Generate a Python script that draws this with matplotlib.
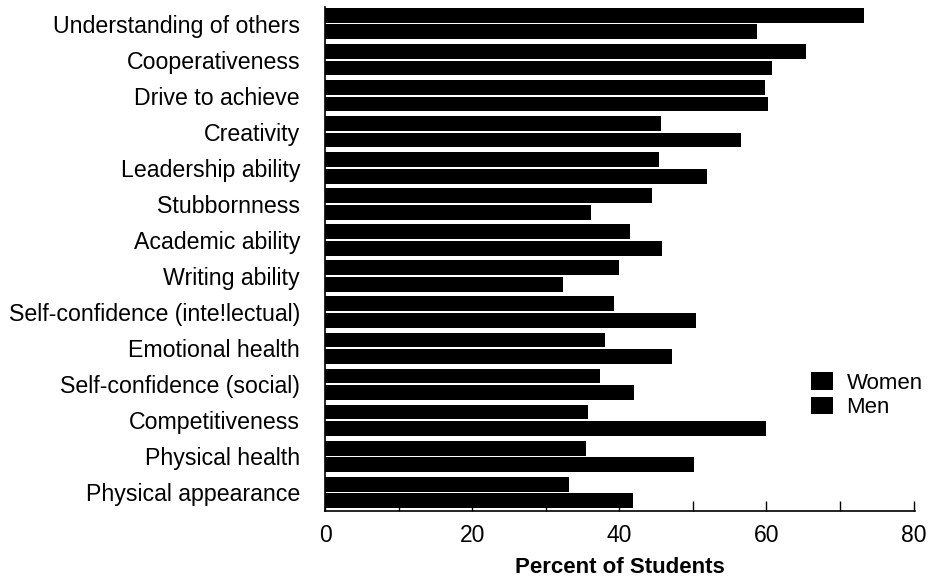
import numpy as np
import matplotlib
matplotlib.use('Agg')
import matplotlib.pyplot as plt

traits = ['Understanding of others', 'Cooperativeness', 'Drive to achieve', 'Creativity',
          'Leadership ability', 'Stubbornness', 'Academic ability', 'Writing ability',
          'Self-confidence (inte!lectual)', 'Emotional health', 'Self-confidence (social)',
          'Competitiveness', 'Physical health', 'Physical appearance']
women = [73.2, 65.4, 59.8, 45.6, 45.4, 44.5, 41.5, 39.9, 39.3, 38.0, 37.4, 35.7, 35.5, 33.2]
men = [58.7, 60.7, 60.2, 56.5, 51.9, 36.2, 45.8, 32.3, 50.4, 47.2, 42.0, 59.9, 50.2, 41.9]
xticks = [0, 20, 40, 60, 80]

plt.rcParams['font.family'] = ['Liberation Sans', 'DejaVu Sans']

fig = plt.figure(figsize=(9.3, 5.81), dpi=100)
ax = fig.add_axes([0.3495, 0.1213, 0.6345, 0.8661])

pos = np.arange(len(traits))
h = 0.41
gap = 0.05
ax.barh(pos - h / 2 - gap / 2, women, height=h, color='black', label='Women', zorder=3)
ax.barh(pos + h / 2 + gap / 2, men, height=h, color='black', label='Men', zorder=3)

ax.set_ylim(13.5, -0.45)
ax.set_xlim(0, 80.2)
ax.set_yticks(pos)
ax.set_yticklabels(traits, fontsize=16.7)
ax.tick_params(axis='y', length=0, pad=18)

ax.set_xticks(np.arange(0, 81, 10))
ax.set_xticklabels([str(t) if t in xticks else '' for t in range(0, 81, 10)], fontsize=16.5)
ax.tick_params(axis='x', direction='in', length=7, width=1, pad=10)

ax.spines['top'].set_visible(False)
ax.spines['right'].set_visible(False)
ax.spines['left'].set_linewidth(1.2)
ax.spines['bottom'].set_linewidth(1.2)

ax.set_xlabel('Percent of Students', fontsize=16, fontweight='bold', labelpad=7)

ax.legend(loc='upper left', bbox_to_anchor=(0.860, 0.378), bbox_transform=fig.transFigure,
          frameon=False, fontsize=16, handlelength=1.0, handleheight=0.85,
          handletextpad=0.6, labelspacing=0.12, borderpad=0)

fig.savefig('out.png', dpi=100)
